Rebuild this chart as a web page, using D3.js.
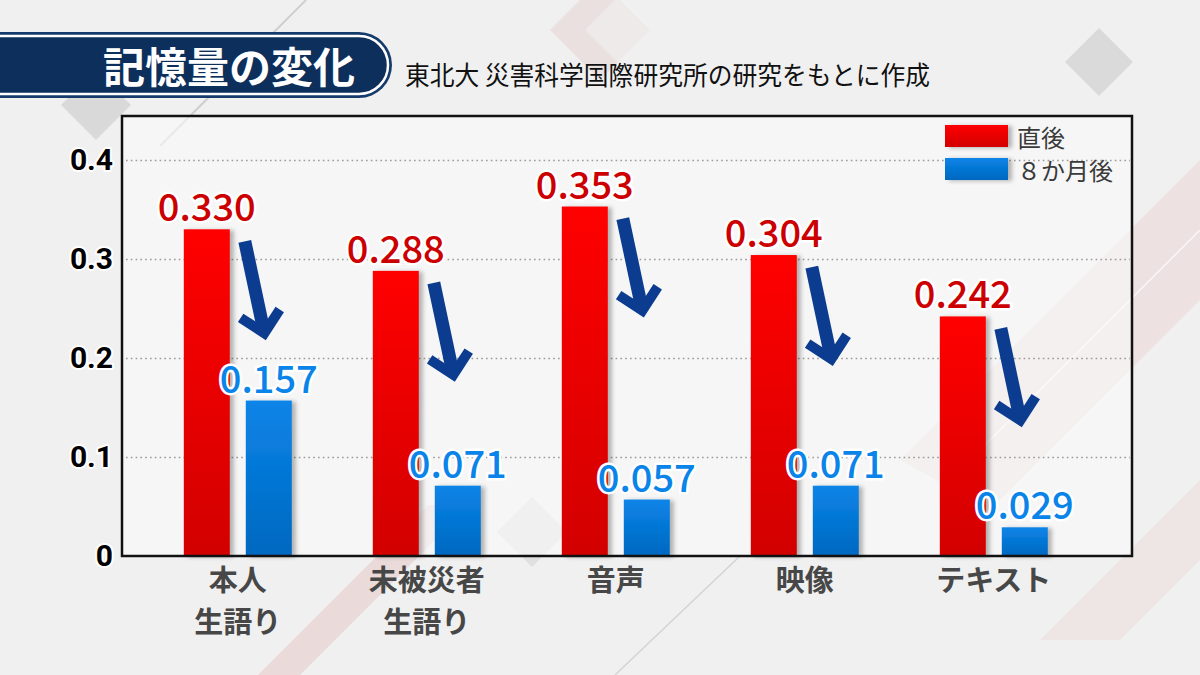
<!DOCTYPE html>
<html><head><meta charset="utf-8">
<script src="https://cdn.jsdelivr.net/npm/d3@7"></script>
<style>
html,body{margin:0;padding:0;background:#f0f0f0;}
svg{display:block;font-family:"Noto Sans CJK JP","Noto Sans",sans-serif;}
</style>
</head><body>
<svg id="chart" width="1200" height="675"></svg>
<script>
// ---- data ----
const categories = [["本人","生語り"],["未被災者","生語り"],["音声"],["映像"],["テキスト"]];
const categoryKeys = categories.map(d => d.join(""));
const seriesNames = ["直後","８か月後"];
const valuesImmediate = [0.330, 0.288, 0.353, 0.304, 0.242];
const valuesAfter8 = [0.157, 0.071, 0.057, 0.071, 0.029];
const yTicks = [0, 0.1, 0.2, 0.3, 0.4];
const yTickLabels = ["0", "0.1", "0.2", "0.3", "0.4"];
const titleText = "記憶量の変化";
const subtitleText = "東北大 災害科学国際研究所の研究をもとに作成";

const svg = d3.select("#chart");
const W = 1200, H = 675;
const plot = {left: 122, right: 1132, top: 116, bottom: 556};

const defs = svg.append("defs");
function vGrad(id, c1, c2) {
  const g = defs.append("linearGradient").attr("id", id).attr("x1", 0).attr("y1", 0).attr("x2", 0).attr("y2", 1);
  g.append("stop").attr("offset", "0%").attr("stop-color", c1);
  g.append("stop").attr("offset", "100%").attr("stop-color", c2);
}
vGrad("gRed", "#ff0505", "#d20000");
vGrad("gBlue", "#0a84e8", "#0068c0");
const f = defs.append("filter").attr("id", "shadow").attr("x", "-20%").attr("y", "-10%").attr("width", "160%").attr("height", "130%");
f.append("feDropShadow").attr("dx", 4).attr("dy", 1).attr("stdDeviation", 2).attr("flood-color", "#000").attr("flood-opacity", 0.28);

// ---- background ----
svg.append("rect").attr("width", W).attr("height", H).attr("fill", "#f0f0f0");
const bg = svg.append("g");
const diamond = (cx, cy, r) => `M${cx},${cy - r}L${cx + r},${cy}L${cx},${cy + r}L${cx - r},${cy}Z`;
bg.append("path").attr("d", diamond(600, 30, 50)).attr("fill", "rgba(215,175,175,0.25)");
bg.append("path").attr("d", diamond(625, 30, 40)).attr("fill", "rgba(240,240,240,0.6)");
bg.append("line").attr("x1", 306).attr("y1", 0).attr("x2", 160).attr("y2", 146).attr("stroke", "#cfcfcf").attr("stroke-width", 2);
bg.append("path").attr("d", diamond(96, 105, 35)).attr("fill", "#d9d9d9");
bg.append("path").attr("d", diamond(1099, 62, 34)).attr("fill", "#dadada");
bg.append("path").attr("d", diamond(532, 532, 35)).attr("fill", "#e0e0e0");
bg.append("polygon").attr("points", "258,675 300,675 470,505 428,505").attr("fill", "rgba(220,160,160,0.28)");
bg.append("polygon").attr("points", "900,460 1200,160 1200,300 990,510").attr("fill", "rgba(225,165,165,0.2)");
bg.append("line").attr("x1", 950).attr("y1", 480).attr("x2", 1200).attr("y2", 230).attr("stroke", "rgba(255,255,255,0.7)").attr("stroke-width", 1.5);
bg.append("polygon").attr("points", "1040,640 1200,480 1200,560 1120,640").attr("fill", "rgba(225,165,165,0.15)");
bg.append("line").attr("x1", 740).attr("y1", 556).attr("x2", 615).attr("y2", 675).attr("stroke", "#d4d4d4").attr("stroke-width", 1.5);

// ---- title banner ----
const bh = {top: 32, bottom: 98, right: 392};
const r0 = (bh.bottom - bh.top) / 2;
svg.append("path")
  .attr("d", `M-10,${bh.top}H${bh.right - r0}A${r0},${r0} 0 0 1 ${bh.right - r0},${bh.bottom}H-10Z`)
  .attr("fill", "#153b6c");
const r1 = r0 - 4;
svg.append("path")
  .attr("d", `M-10,${bh.top + 4}H${bh.right - r0}A${r1},${r1} 0 0 1 ${bh.right - r0},${bh.bottom - 4}H-10Z`)
  .attr("fill", "#0d2f5c").attr("stroke", "#ffffff").attr("stroke-width", 2.5);
svg.append("text").attr("x", 229).attr("y", 64).attr("text-anchor", "middle").attr("dominant-baseline", "central")
  .attr("font-size", 42).attr("font-weight", 700).attr("fill", "#ffffff").text(titleText);
svg.append("text").attr("x", 405).attr("y", 73).attr("dominant-baseline", "central")
  .attr("font-size", 26).attr("font-weight", 400).attr("fill", "#111")
  .attr("textLength", 525).attr("lengthAdjust", "spacingAndGlyphs").text(subtitleText);

// ---- scales ----
const y = d3.scaleLinear().domain([0, 0.4]).range([plot.bottom, 160]);
const x0 = d3.scaleBand().domain(categoryKeys).range([143.3, 1088.3]);
const x1 = d3.scaleBand().domain(seriesNames).range([0, 108]).paddingInner(0.258);
const groupStart = k => x0(k) + x0.bandwidth() / 2 - 54;

// plot background
svg.append("rect").attr("x", plot.left).attr("y", plot.top).attr("width", plot.right - plot.left).attr("height", plot.bottom - plot.top)
  .attr("fill", "rgba(250,250,250,0.6)");

// grid
const grid = svg.append("g").attr("transform", `translate(${plot.left + 4},0)`)
  .call(d3.axisLeft(y).tickValues(yTicks.filter(v => v > 0)).tickSize(-(plot.right - plot.left - 6)).tickFormat(""));
grid.select(".domain").remove();
grid.selectAll("line").attr("stroke", "#9a9a9a").attr("stroke-width", 1.6).attr("stroke-dasharray", "1.6,3.2");

// y axis labels
const ya = svg.append("g").attr("transform", `translate(${plot.left},0)`)
  .call(d3.axisLeft(y).tickValues(yTicks).tickFormat((d, i) => yTickLabels[i]).tickSize(0).tickPadding(9));
ya.select(".domain").remove();
ya.selectAll("text").attr("font-size", 30).attr("font-weight", 700).attr("fill", "#000")
  .attr("font-family", "Roboto, 'Noto Sans', sans-serif")
  .attr("stroke", "#fff").attr("stroke-width", 4).attr("paint-order", "stroke").attr("stroke-linejoin", "round");

// ---- bars ----
const data = categoryKeys.map((k, i) => ({key: k, lines: categories[i], a: valuesImmediate[i], b: valuesAfter8[i]}));
const gBars = svg.append("g");
data.forEach(d => {
  const gx = groupStart(d.key);
  gBars.append("rect").attr("x", gx + x1(seriesNames[0])).attr("y", y(d.a)).attr("width", x1.bandwidth())
    .attr("height", y(0) - y(d.a)).attr("fill", "url(#gRed)").attr("filter", "url(#shadow)");
  gBars.append("rect").attr("x", gx + x1(seriesNames[1])).attr("y", y(d.b)).attr("width", x1.bandwidth())
    .attr("height", y(0) - y(d.b)).attr("fill", "url(#gBlue)").attr("filter", "url(#shadow)");
});

// ---- arrows ----
const gArr = svg.append("g");
const arrowLen = 101, ang = -12;
data.forEach(d => {
  const gx = groupStart(d.key);
  const sx = gx + x1(seriesNames[0]) + x1.bandwidth() + 15;
  const sy = y(d.a) + 12;
  const a = gArr.append("g").attr("transform", `translate(${sx},${sy}) rotate(${ang})`);
  a.append("line").attr("x1", 0).attr("y1", 0).attr("x2", 0).attr("y2", arrowLen - 10)
    .attr("stroke", "#0b3c8f").attr("stroke-width", 13);
  a.append("path").attr("d", `M-20,${arrowLen - 27}L0,${arrowLen - 7}L20,${arrowLen - 27}`)
    .attr("fill", "none").attr("stroke", "#0b3c8f").attr("stroke-width", 10).attr("stroke-linejoin", "miter");
});

// ---- value labels ----
const fmt = d3.format(".3f");
const gLab = svg.append("g").attr("font-size", 38).attr("font-weight", 500).attr("text-anchor", "middle")
  .attr("stroke", "#fff").attr("stroke-width", 5).attr("paint-order", "stroke").attr("stroke-linejoin", "round");
data.forEach(d => {
  const gx = groupStart(d.key);
  gLab.append("text").attr("x", gx + x1(seriesNames[0]) + x1.bandwidth() / 2).attr("y", y(d.a) - 8)
    .attr("fill", "#cc0000").text(fmt(d.a));
  gLab.append("text").attr("x", gx + x1(seriesNames[1]) + x1.bandwidth() / 2).attr("y", y(d.b) - 8)
    .attr("fill", "#0a84e8").text(fmt(d.b));
});

// frame
svg.append("rect").attr("x", plot.left).attr("y", plot.top).attr("width", plot.right - plot.left).attr("height", plot.bottom - plot.top)
  .attr("fill", "none").attr("stroke", "#111").attr("stroke-width", 2.5);

// ---- category labels ----
const gCat = svg.append("g").attr("font-size", 29).attr("font-weight", 700).attr("fill", "#474747").attr("text-anchor", "middle");
data.forEach(d => {
  const cx = x0(d.key) + x0.bandwidth() / 2;
  d.lines.forEach((ln, j) => {
    gCat.append("text").attr("x", cx).attr("y", 591 + j * 42).text(ln);
  });
});

// ---- legend ----
const legColors = ["url(#gRed)", "url(#gBlue)"];
const leg = svg.append("g");
seriesNames.forEach((s, i) => {
  leg.append("rect").attr("x", 945).attr("y", 125 + i * 33).attr("width", 63).attr("height", 22)
    .attr("fill", legColors[i]).attr("filter", "url(#shadow)");
  leg.append("text").attr("x", 1017).attr("y", 136 + i * 33).attr("dominant-baseline", "central")
    .attr("font-size", 24).attr("fill", "#3a3a3a").text(s);
});
</script>
</body></html>
